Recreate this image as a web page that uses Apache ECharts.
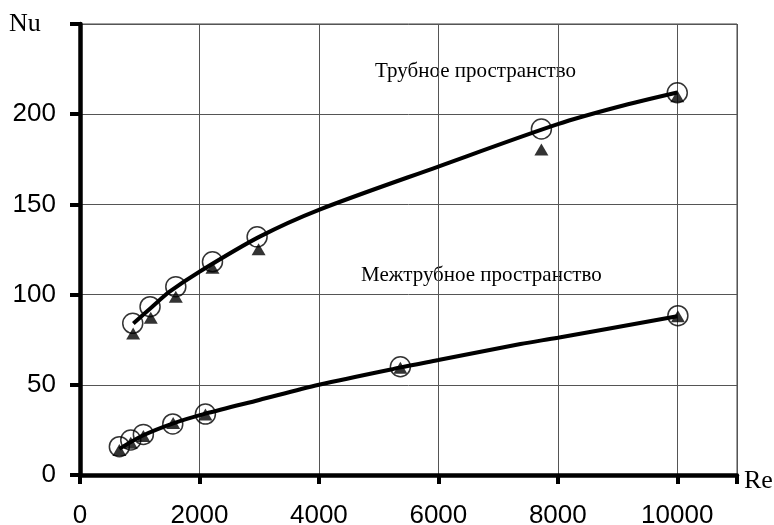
<!DOCTYPE html>
<html><head><meta charset="utf-8">
<script src="https://cdn.jsdelivr.net/npm/echarts@6/dist/echarts.min.js"></script>
<style>html,body{margin:0;padding:0;background:#fff}#c{width:774px;height:525px}</style>
</head><body><div id="c"></div>
<script>
// Трубное пространство
const tubeCircleRe = [883, 1173, 1604, 2218, 2965, 7725, 10000];
const tubeCircleNu = [84.1, 93.3, 104.4, 118.2, 132.0, 191.8, 211.9];
const tubeTriRe = [890, 1185, 1604, 2218, 2990, 7725, 10000];
const tubeTriNu = [78.5, 87.2, 98.8, 114.9, 125.2, 180.4, 210.0];
const tubeLineRe = [893, 1200, 1500, 2000, 3000, 4000, 6000, 8000, 9000, 10000];
const tubeLineNu = [84, 93, 101.6, 112.7, 132, 147, 171, 194.5, 204, 212];
// Межтрубное пространство
const shellCircleRe = [659, 850, 1061, 1553, 2100, 5364, 10010];
const shellCircleNu = [15.7, 19.4, 22.5, 28.3, 33.8, 60.0, 88.3];
const shellTriRe = [659, 850, 1061, 1560, 2100, 5364, 10010];
const shellTriNu = [13.8, 17.9, 21.6, 28.8, 33.5, 59.5, 88.0];
const shellLineRe = [660, 1060, 1550, 2100, 3000, 4000, 5350, 6000, 7375, 8000, 10000];
const shellLineNu = [14.5, 22, 28.5, 34, 41.6, 50, 59.5, 63.7, 72.6, 76.1, 88];

const yTicks = [0, 50, 100, 150, 200];
const xTicks = [0, 2000, 4000, 6000, 8000, 10000];

const zip = (a, b) => a.map((v, i) => [v, b[i]]);
const chart = echarts.init(document.getElementById('c'));
const circleStyle = {color: 'rgba(0,0,0,0)', borderColor: '#000', borderWidth: 1.5};
const lineStyle = {color: '#000', width: 4};
chart.setOption({
  animation: false,
  grid: {left: 80, right: 37, top: 24, bottom: 50, show: true, borderColor: '#444', borderWidth: 1,
    containLabel: false, outerBoundsMode: 'none'},
  xAxis: {
    type: 'value', min: 0, max: 11000, interval: 2000,
    axisLine: {lineStyle: {color: '#000', width: 4.5}},
    axisTick: {show: true, length: 9, lineStyle: {color: '#000', width: 4}},
    axisLabel: {margin: 28, fontFamily: 'Liberation Sans', fontSize: 26, color: '#000',
      formatter: v => xTicks.includes(v) ? String(v) : ''},
    splitLine: {show: true, lineStyle: {color: '#555', width: 1}}
  },
  yAxis: {
    type: 'value', min: 0, max: 250, interval: 50,
    axisLine: {show: true, lineStyle: {color: '#000', width: 4.5}},
    axisTick: {show: true, length: 10, lineStyle: {color: '#000', width: 4}},
    axisLabel: {margin: 24, fontFamily: 'Liberation Sans', fontSize: 26, color: '#000',
      formatter: v => yTicks.includes(v) ? String(v) : ''},
    splitLine: {show: true, lineStyle: {color: '#555', width: 1}}
  },
  graphic: [
    {type: 'text', left: 9, top: 11, style: {text: 'Nu', fontFamily: 'Liberation Serif', fontSize: 26, fill: '#000'}},
    {type: 'text', left: 744, top: 468, style: {text: 'Re', fontFamily: 'Liberation Serif', fontSize: 26, fill: '#000'}},
    {type: 'text', left: 375, top: 61, style: {text: 'Трубное пространство', fontFamily: 'Liberation Serif', fontSize: 21, fill: '#000'}},
    {type: 'text', left: 361, top: 265, style: {text: 'Межтрубное пространство', fontFamily: 'Liberation Serif', fontSize: 21, fill: '#000'}}
  ],
  series: [
    {type: 'line', data: zip(tubeLineRe, tubeLineNu), smooth: 0.3, showSymbol: false, lineStyle: lineStyle, z: 2},
    {type: 'line', data: zip(shellLineRe, shellLineNu), smooth: 0.3, showSymbol: false, lineStyle: lineStyle, z: 2},
    {type: 'scatter', data: zip(tubeTriRe, tubeTriNu), symbol: 'triangle', symbolSize: [14, 12], itemStyle: {color: '#000'}, z: 3},
    {type: 'scatter', data: zip(shellTriRe, shellTriNu), symbol: 'triangle', symbolSize: [14, 12], itemStyle: {color: '#000'}, z: 3},
    {type: 'scatter', data: zip(tubeCircleRe, tubeCircleNu), symbol: 'circle', symbolSize: 20, itemStyle: circleStyle, z: 4},
    {type: 'scatter', data: zip(shellCircleRe, shellCircleNu), symbol: 'circle', symbolSize: 20, itemStyle: circleStyle, z: 4}
  ]
});
</script></body></html>
